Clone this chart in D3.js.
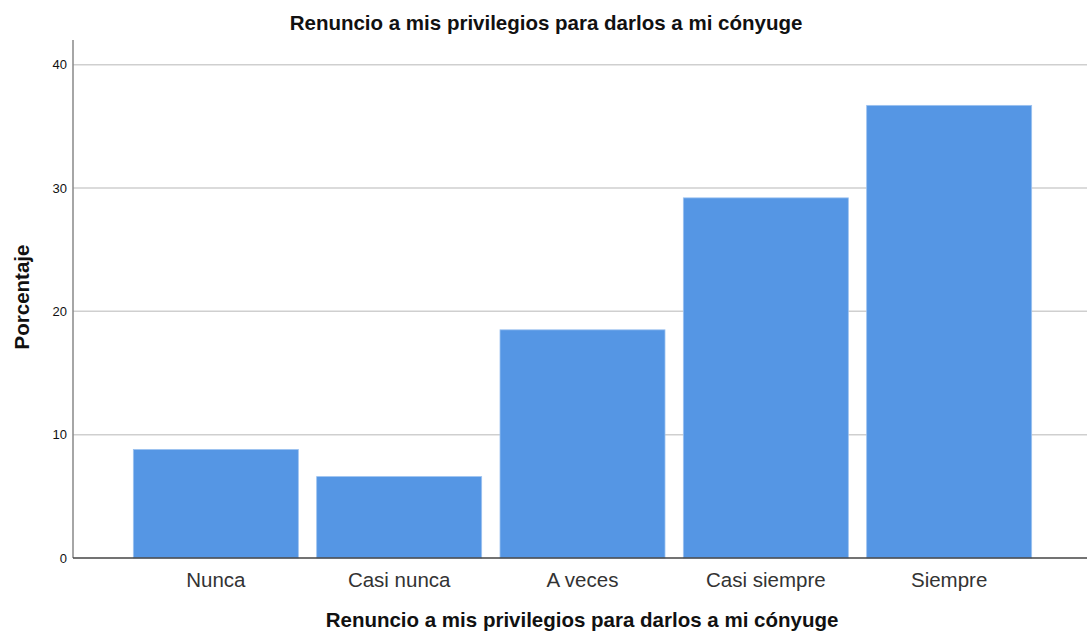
<!DOCTYPE html>
<html>
<head>
<meta charset="utf-8">
<script src="https://cdn.jsdelivr.net/npm/d3@7"></script>
<style>
  body { margin: 0; background: #fff; }
  svg { display: block; font-family: "Liberation Sans", Arial, sans-serif; }
</style>
</head>
<body>
<svg id="chart" width="1087" height="635"></svg>
<script>
const categories = ["Nunca", "Casi nunca", "A veces", "Casi siempre", "Siempre"];
const values = [8.8, 6.6, 18.5, 29.2, 36.7];
const yTicks = [0, 10, 20, 30, 40];
const title = "Renuncio a mis privilegios para darlos a mi cónyuge";
const xTitle = "Renuncio a mis privilegios para darlos a mi cónyuge";
const yTitle = "Porcentaje";

const svg = d3.select("#chart");
const x0 = 73, x1 = 1087, yTop = 40, yBottom = 558;

const x = d3.scaleBand().domain(categories).range([124.17, 1040.83]).paddingInner(0.1).paddingOuter(0.05);
const y = d3.scaleLinear().domain([0, 42]).range([yBottom, yTop]);

// gridlines
svg.append("g").selectAll("line").data(yTicks.filter(d => d > 0)).join("line")
  .attr("x1", x0).attr("x2", x1)
  .attr("y1", d => y(d)).attr("y2", d => y(d))
  .attr("stroke", "#cfcfcf").attr("stroke-width", 1.5);

// bars
svg.append("g").selectAll("rect").data(values).join("rect")
  .attr("x", (d, i) => x(categories[i]))
  .attr("y", d => y(d))
  .attr("width", x.bandwidth())
  .attr("height", d => y(0) - y(d))
  .attr("fill", "#5596e4")
  .attr("stroke", "#9cc2f0").attr("stroke-width", 0.8);

// y axis
const yAxis = d3.axisLeft(y).tickValues(yTicks).tickSize(5).tickFormat(d3.format("d"));
const ga = svg.append("g").attr("transform", `translate(${x0},0)`).call(yAxis);
ga.select(".domain").attr("stroke", "#888").attr("stroke-width", 1.5).attr("d", `M0,${yTop}V${yBottom}`);
ga.selectAll(".tick line").remove();
ga.selectAll(".tick text").attr("x", -6).attr("font-size", 13).attr("fill", "#111")
  .attr("font-family", "'Liberation Sans', Arial, sans-serif");

// x axis
const xAxis = d3.axisBottom(x).tickSize(0).tickPadding(0);
const gx = svg.append("g").attr("transform", `translate(0,${yBottom})`).call(xAxis);
gx.select(".domain").attr("stroke", "#444").attr("stroke-width", 1.5).attr("d", `M${x0},0H${x1}`);
gx.selectAll(".tick text").attr("font-size", 20.5).attr("fill", "#333")
  .attr("dy", null).attr("y", 29)
  .attr("font-family", "'Liberation Sans', Arial, sans-serif");

// titles
svg.append("text").attr("x", 546).attr("y", 30).attr("text-anchor", "middle")
  .attr("font-size", 20.5).attr("font-weight", "bold").attr("fill", "#111").text(title);
svg.append("text").attr("x", 582).attr("y", 627).attr("text-anchor", "middle")
  .attr("font-size", 20.5).attr("font-weight", "bold").attr("fill", "#111").text(xTitle);
svg.append("text").attr("transform", "translate(29,297) rotate(-90)").attr("text-anchor", "middle")
  .attr("font-size", 20.5).attr("font-weight", "bold").attr("fill", "#111").text(yTitle);
</script>
</body>
</html>
